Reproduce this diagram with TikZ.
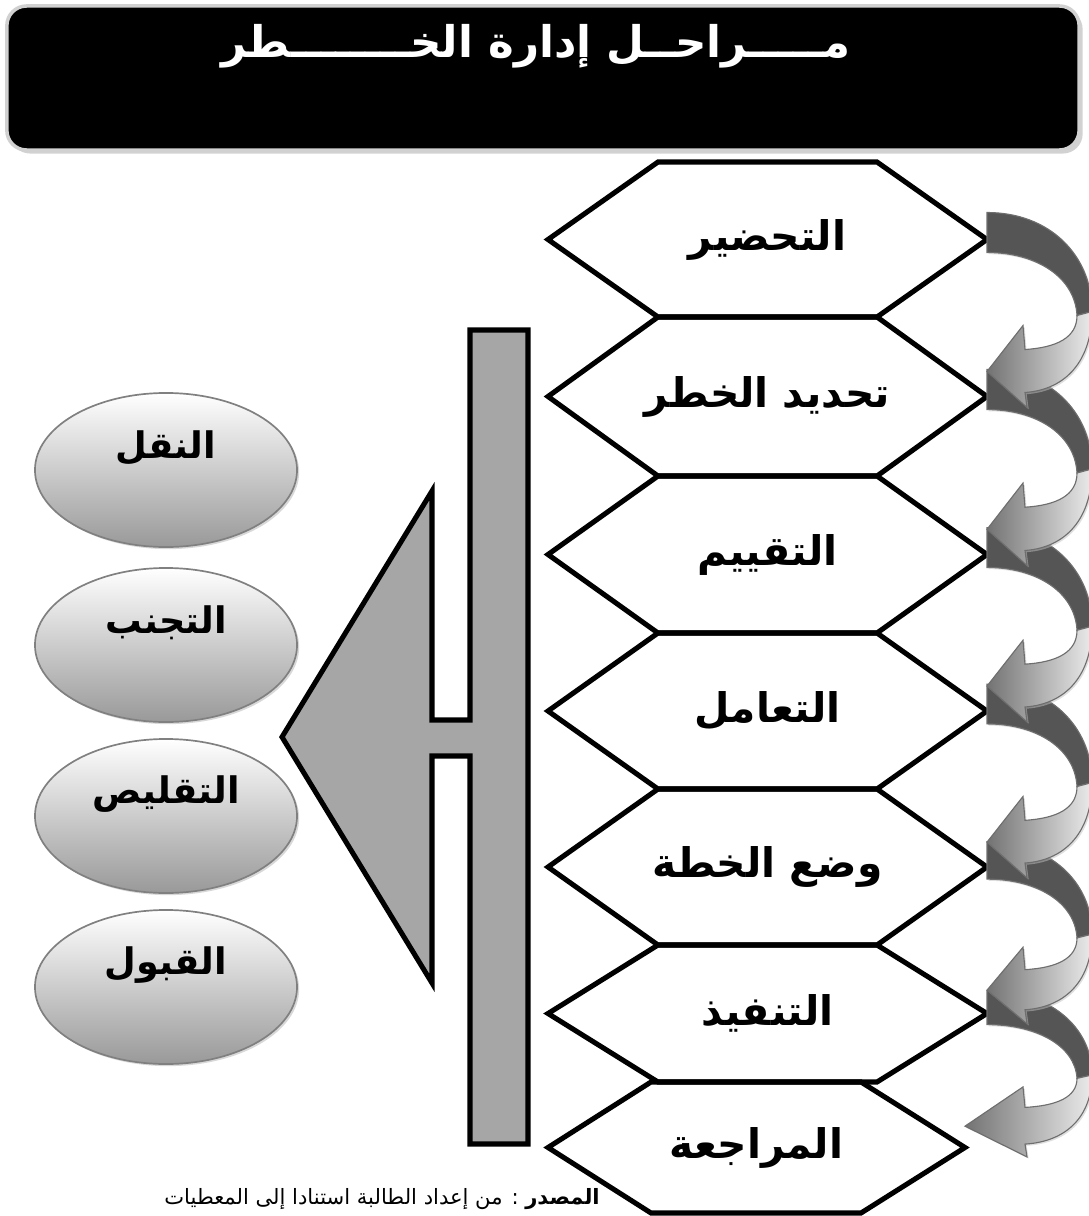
\documentclass[tikz,border=0pt]{standalone}
\usepackage{fontspec}
\newfontfamily\arabicfont[Script=Arabic]{DejaVu Sans}
\TeXXeTstate=1
\usetikzlibrary{shapes.geometric, positioning, calc, shadows}
\definecolor{BarGray}{RGB}{166, 166, 166}
\definecolor{BandDark}{RGB}{85, 85, 85}
\definecolor{RimGray}{RGB}{110, 110, 110}

\begin{document}
\begin{tikzpicture}[
    x=0.025cm, y=-0.025cm,
    titlebox/.style={rectangle, fill=black, draw=black!18, line width=2.5pt, rounded corners=14pt, minimum width=26.8cm, minimum height=3.6cm, drop shadow={shadow xshift=2.5pt, shadow yshift=-2.5pt, fill=black!35}},
    titletext/.style={font=\arabicfont\bfseries\fontsize{31}{36}\selectfont, text=white, inner sep=0pt},
    hexline/.style={draw=black, line width=3.6pt, line join=miter},
    hexlabel/.style={font=\arabicfont\bfseries\fontsize{29}{34}\selectfont, inner sep=0pt},
    ovalbox/.style={ellipse, draw=black!50, line width=1.2pt, top color=white, bottom color=black!40, minimum width=6.55cm, minimum height=3.85cm, drop shadow={shadow xshift=1.5pt, shadow yshift=-1.5pt, fill=black!30}},
    ovaltext/.style={font=\arabicfont\bfseries\fontsize{26}{30}\selectfont, inner sep=0pt},
    bracket/.style={fill=BarGray, draw=black, line width=3.6pt, line join=miter},
    backband/.style={fill=BandDark, draw=RimGray, line width=0.8pt, drop shadow={shadow xshift=1.2pt, shadow yshift=-1.2pt, fill=black!25}},
    frontband/.style={left color=black!55, right color=black!8, draw=RimGray, line width=0.8pt, drop shadow={shadow xshift=1.2pt, shadow yshift=-1.2pt, fill=black!25}}
  ]
    \useasboundingbox (0,0) rectangle (1088,1216);

    % Title banner
    \node[titlebox] (title) at (543,78) {};
    \node[titletext] (titletxt) at (536,46) {\beginR مـــــراحــل إدارة الخــــــــطر\endR};

    % Stages (hexagons)
    \foreach \n/\t/\b/\xl/\xr/\xv/\lab in {
        1/162/317/658/877/987/{التحضير},
        2/317/476/658/877/987/{تحديد الخطر},
        3/476/633/658/877/987/{التقييم},
        4/633/789/658/877/987/{التعامل},
        5/789/945/658/877/987/{وضع الخطة},
        6/945/1082/658/877/987/{التنفيذ},
        7/1082/1213/651/861/965/{المراجعة}}{
      \draw[hexline] (548,{(\t+\b)/2}) -- (\xl,\t) -- (\xr,\t) -- (\xv,{(\t+\b)/2}) -- (\xr,\b) -- (\xl,\b) -- cycle;
      \node[hexlabel] (st\n) at ({(548+\xv)/2},{(\t+\b)/2}) {\beginR\lab\endR};
      \coordinate (v\n) at (\xv,{(\t+\b)/2});
    }

    % Curved arrows between stages
    \foreach \i/\d/\hx in {6/134/-22, 5/146.5/0, 4/156/0, 3/156.5/0, 2/158/0, 1/157/0}{
      \begin{scope}[shift={(v\i)}, yscale=\d/157]
        \path[backband] (0,-27) .. controls (62,-27) and (105,15) .. (105,72)
          -- (90,76) .. controls (88,38) and (50,13) .. (0,13) -- cycle;
        \path[frontband] (105,72) .. controls (105,120) and (80,150) .. (38,153)
          -- (40,168) -- (\hx,132) -- (36,86) -- (38,110)
          .. controls (70,108) and (90,98) .. (90,76) -- cycle;
      \end{scope}
    }

    % Treatment bracket
    \draw[bracket] (470,330) -- (528,330) -- (528,1144) -- (470,1144) -- (470,756)
      -- (432,756) -- (432,983) -- (282,737) -- (432,491) -- (432,720) -- (470,720) -- cycle;

    % Treatment options
    \node[ovalbox] (opt1) at (166,470) {};
    \node[ovalbox] (opt2) at (166,645) {};
    \node[ovalbox] (opt3) at (166,816) {};
    \node[ovalbox] (opt4) at (166,987) {};
    \node[ovaltext] at ([yshift=0.55cm]opt1.center) {\arabicfont\beginR النقل\endR};
    \node[ovaltext] at ([yshift=0.55cm]opt2.center) {\arabicfont\beginR التجنب\endR};
    \node[ovaltext] at ([yshift=0.55cm]opt3.center) {\arabicfont\beginR التقليص\endR};
    \node[ovaltext] at ([yshift=0.55cm]opt4.center) {\arabicfont\beginR القبول\endR};

    % Source note
    \node[anchor=east, font=\arabicfont\fontsize{15}{18}\selectfont, inner sep=0pt] (src) at (600,1199)
      {\beginR\textbf{المصدر} : من إعداد الطالبة استنادا إلى المعطيات\endR};
  \end{tikzpicture}
\end{document}
